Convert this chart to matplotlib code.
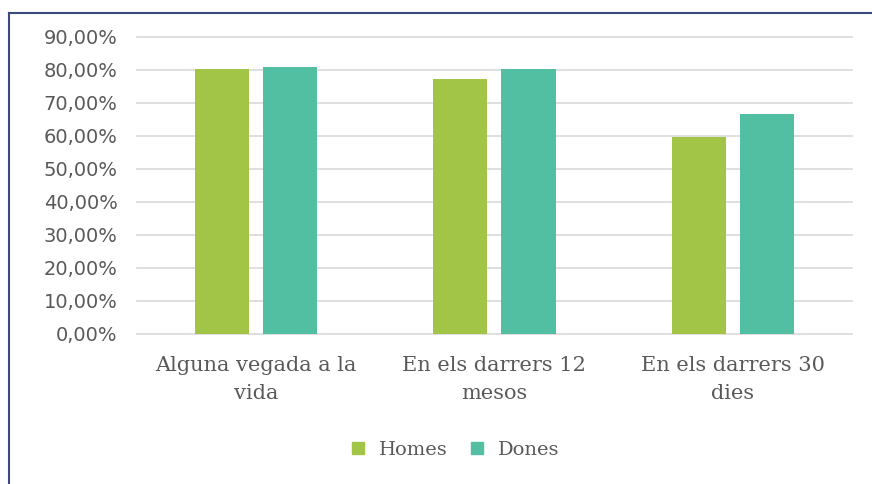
import numpy as np
import matplotlib.pyplot as plt
from matplotlib.lines import Line2D
from matplotlib.ticker import FuncFormatter

categories = ['Alguna vegada a la\nvida', 'En els darrers 12\nmesos', 'En els darrers 30\ndies']
homes = [0.803, 0.773, 0.597]
dones = [0.809, 0.803, 0.667]
series_names = ['Homes', 'Dones']
colors = ['#A2C547', '#52BFA3']

fig = plt.figure(figsize=(8.72, 4.84), dpi=100)
ax = fig.add_axes([0.157, 0.31, 0.82, 0.6136])

x = np.arange(len(categories))
w = 0.227
off = 0.143
ax.bar(x - off, homes, w, color=colors[0], zorder=3)
ax.bar(x + off, dones, w, color=colors[1], zorder=3)

ax.set_xlim(-0.5, 2.5)
ax.set_ylim(0, 0.9)
ax.set_yticks(np.arange(0, 0.91, 0.1))
ax.yaxis.set_major_formatter(FuncFormatter(lambda v, p: f'{v*100:.2f}%'.replace('.', ',')))
ax.grid(axis='y', color='#D9D9D9', linewidth=1.2, zorder=0)
for gl in ax.get_ygridlines():
    gl.set_clip_on(False)
for s in ax.spines.values():
    s.set_visible(False)
ax.tick_params(axis='both', length=0, colors='#595959')
ax.tick_params(axis='y', labelsize=14, pad=14)
ax.set_xticks(x)
ax.set_xticklabels(categories, fontsize=15, family='DejaVu Serif', color='#595959',
                   linespacing=1.6)
ax.tick_params(axis='x', pad=16)

handles = [Line2D([], [], marker='s', linestyle='', markersize=8, color=c) for c in colors]
fig.legend(handles, series_names, loc='center', bbox_to_anchor=(0.515, 0.07), ncol=2,
           frameon=False, prop={'family': 'DejaVu Serif', 'size': 14},
           labelcolor='#595959', handletextpad=0.1, columnspacing=0.5)

# outer chart border (left and top visible)
fig.add_artist(Line2D([0.0103, 0.0103], [0, 1 - 13 / 484], transform=fig.transFigure,
                      color='#3A4A7A', linewidth=1.5))
fig.add_artist(Line2D([0.0103, 1], [1 - 13 / 484, 1 - 13 / 484], transform=fig.transFigure,
                      color='#3A4A7A', linewidth=1.5))

fig.savefig('out.png', dpi=100)
